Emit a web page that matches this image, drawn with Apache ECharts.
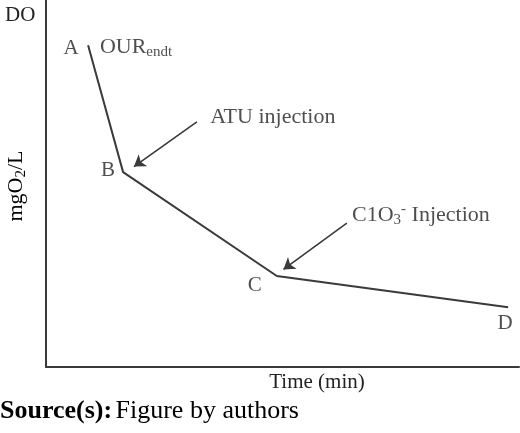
<!DOCTYPE html>
<html>
<head>
<meta charset="utf-8">
<script src="https://cdn.jsdelivr.net/npm/echarts@6/dist/echarts.min.js"></script>
<style>
  html, body { margin: 0; padding: 0; background: #fff; }
  #chart { width: 520px; height: 433px; }
</style>
</head>
<body>
<div id="chart"></div>
<script>
// DO curve (time and DO in relative units 0..100)
var pointNames = ["A", "B", "C", "D"];
var timeValues = [8.9, 16.3, 48.8, 97.7];
var doValues = [87.7, 53.1, 24.8, 16.3];
var labelOffsets = [[-17, 3], [-15, -2], [-22, 10], [-3, 16]];

// injection arrows: [tail, head]
var atuArrow = [[31.9, 66.8], [18.6, 54.6]];
var clo3Arrow = [[63.6, 39.2], [50.2, 26.6]];

// annotation texts (left edge, vertical centre)
var notes = [
  { pos: [11.4, 87.2], text: "{t|OUR}{sub|endt}" },
  { pos: [34.7, 68.1], text: "{t|ATU injection}" },
  { pos: [64.7, 41.4], text: "{t|C1O}{sub|3}{sup|-}{t| Injection}" }
];

var FONT = "'Liberation Serif', 'DejaVu Serif', serif";
var INK = "#222";
var LINE = "#3a3a3a";

var richStyles = {
  t: { fontFamily: FONT, fontSize: 22, color: INK },
  sub: { fontFamily: FONT, fontSize: 15, color: INK, padding: [11, 0, 0, 0] },
  sup: { fontFamily: FONT, fontSize: 15, color: INK, padding: [0, 0, 11, 0] }
};

var curve = timeValues.map(function (t, i) { return [t, doValues[i]]; });

var pointLabels = curve.map(function (p, i) {
  return {
    value: p,
    name: pointNames[i],
    label: { offset: labelOffsets[i] }
  };
});

var noteData = notes.map(function (n) {
  return { value: n.pos, name: n.text };
});

var chart = echarts.init(document.getElementById("chart"), null, { renderer: "canvas" });

var axisBase = {
  type: "value",
  min: 0,
  max: 100,
  axisLine: { show: true, lineStyle: { color: LINE, width: 2 } },
  axisTick: { show: false },
  axisLabel: { show: false },
  splitLine: { show: false }
};

chart.setOption({
  animation: false,
  backgroundColor: "#fff",
  grid: { left: 46, right: 1, top: 0, bottom: 66 },
  xAxis: axisBase,
  yAxis: axisBase,
  series: [
    {
      type: "line",
      data: curve,
      symbol: "none",
      lineStyle: { color: LINE, width: 2 },
      z: 3
    },
    {
      type: "scatter",
      data: pointLabels,
      symbolSize: 0,
      label: {
        show: true,
        position: "inside",
        formatter: "{b}",
        fontFamily: FONT,
        fontSize: 21,
        color: INK
      },
      z: 4
    },
    {
      type: "scatter",
      data: noteData,
      symbolSize: 0,
      label: {
        show: true,
        position: "right",
        distance: 0,
        formatter: function (p) { return p.name; },
        rich: richStyles
      },
      z: 4
    },
    {
      type: "lines",
      coordinateSystem: "cartesian2d",
      data: [{ coords: atuArrow }, { coords: clo3Arrow }],
      symbol: ["none", "arrow"],
      symbolSize: 11,
      lineStyle: { color: LINE, width: 1.6, opacity: 1 },
      z: 3
    }
  ],
  graphic: [
    {
      type: "text",
      x: 5,
      y: 15,
      style: {
        text: "DO",
        font: "21px " + FONT,
        fill: INK,
        verticalAlign: "middle"
      }
    },
    {
      type: "text",
      x: 3,
      y: 186,
      rotation: Math.PI / 2,
      style: {
        text: "{t|mgO}{sub|2}{t|/L}",
        rich: richStyles,
        align: "center",
        verticalAlign: "top"
      }
    },
    {
      type: "text",
      x: 317,
      y: 382,
      style: {
        text: "Time (min)",
        font: "21px " + FONT,
        fill: INK,
        align: "center",
        verticalAlign: "middle"
      }
    },
    {
      type: "text",
      x: 0,
      y: 411,
      style: {
        text: "{b|Source(s):} {t|Figure by authors}",
        rich: {
          b: { fontFamily: FONT, fontSize: 26, fontWeight: "bold", color: INK },
          t: { fontFamily: FONT, fontSize: 26, color: INK }
        },
        verticalAlign: "middle"
      }
    }
  ]
});
</script>
</body>
</html>
